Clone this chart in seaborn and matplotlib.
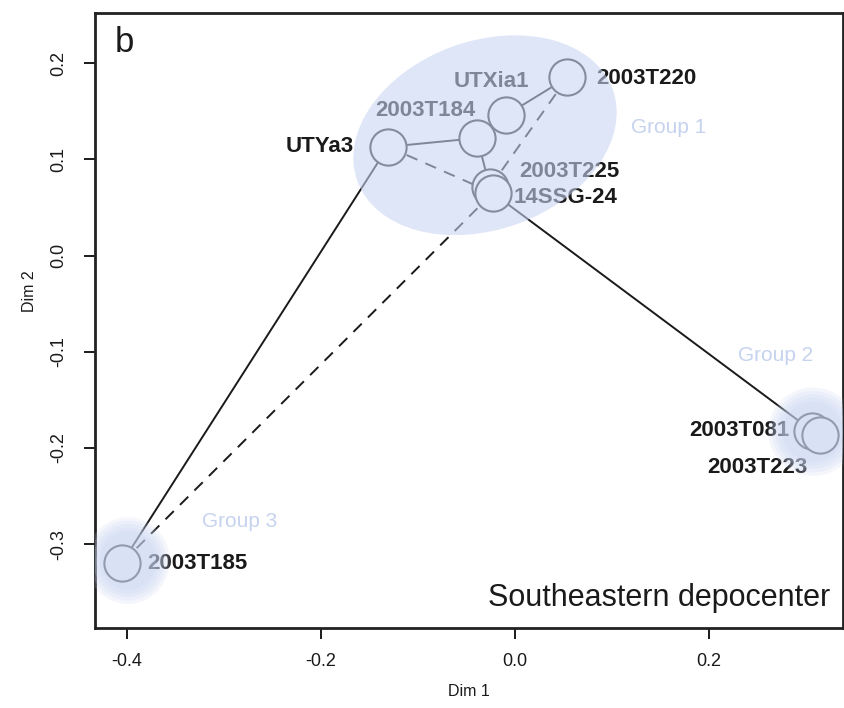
import matplotlib
matplotlib.use("Agg")
import matplotlib.pyplot as plt
from matplotlib.patches import Ellipse
import pandas as pd
import seaborn as sns

# MDS coordinates of the samples
samples = ["2003T220", "UTXia1", "2003T184", "UTYa3", "2003T225",
           "14SSG-24", "2003T081", "2003T223", "2003T185"]
dim1 = [0.054, -0.009, -0.039, -0.131, -0.026, -0.023, 0.306, 0.314, -0.405]
dim2 = [0.185, 0.146, 0.122, 0.113, 0.071, 0.065, -0.182, -0.186, -0.319]

# network links between samples
solid_links = [("2003T185", "UTYa3"), ("UTYa3", "2003T184"),
               ("2003T184", "UTXia1"), ("UTXia1", "2003T220"),
               ("2003T184", "2003T225"), ("2003T225", "14SSG-24"),
               ("14SSG-24", "2003T081"), ("2003T081", "2003T223")]
dashed_links = [("2003T185", "14SSG-24"), ("UTYa3", "14SSG-24"),
                ("2003T220", "2003T225")]

# group hulls
group_names = ["Group 1", "Group 2", "Group 3"]
group_cx = [-0.031, 0.307, -0.399]
group_cy = [0.125, -0.183, -0.317]
group_w = [0.280, 0.092, 0.086]
group_h = [0.196, 0.092, 0.090]
group_angle = [20, 0, 0]
group_label_x = [0.158, 0.268, -0.284]
group_label_y = [0.133, -0.104, -0.276]

xticks = [-0.4, -0.2, 0.0, 0.2]
yticks = [-0.3, -0.2, -0.1, 0.0, 0.1, 0.2]

# label placement (offset in points, horizontal alignment)
label_style = {
    "2003T220": ((21, -1), "left"),
    "UTXia1": ((-11, 24), "center"),
    "2003T184": ((-37, 20), "center"),
    "UTYa3": ((-25, 0), "right"),
    "2003T225": ((21, 11), "left"),
    "14SSG-24": ((15, -3), "left"),
    "2003T081": ((-16, 0), "right"),
    "2003T223": ((-9, -24), "right"),
    "2003T185": ((18, -1), "left"),
}

df = pd.DataFrame({"sample": samples, "Dim 1": dim1, "Dim 2": dim2})
pos = df.set_index("sample")

sns.set_theme(style="white")
plt.rcParams["font.family"] = ["Liberation Sans", "DejaVu Sans"]
plt.rcParams["axes.unicode_minus"] = False

fig, ax = plt.subplots(figsize=(8.45, 7.08), dpi=100)
fig.subplots_adjust(left=95 / 845, right=843 / 845,
                    bottom=1 - 628 / 708, top=1 - 13 / 708)

ink = "#1a1a1a"
for a, b in solid_links:
    ax.plot([pos.loc[a, "Dim 1"], pos.loc[b, "Dim 1"]],
            [pos.loc[a, "Dim 2"], pos.loc[b, "Dim 2"]],
            color=ink, lw=1.4, zorder=2, solid_capstyle="butt")
for a, b in dashed_links:
    ax.plot([pos.loc[a, "Dim 1"], pos.loc[b, "Dim 1"]],
            [pos.loc[a, "Dim 2"], pos.loc[b, "Dim 2"]],
            color=ink, lw=1.4, ls=(0, (6, 4.5)), zorder=2)

sns.scatterplot(data=df, x="Dim 1", y="Dim 2", ax=ax, s=680,
                facecolor="white", edgecolor="#2a2a2a", linewidth=1.5,
                zorder=3, legend=False)

for name, x, y in zip(samples, dim1, dim2):
    (dx, dy), ha = label_style[name]
    ax.annotate(name, (x, y), xytext=(dx, dy), textcoords="offset points",
                ha=ha, va="center", fontsize=16, fontweight="bold",
                color=ink, zorder=3)

hull_color = "#c8d5f2"
# Group 1: a single translucent hull
ax.add_patch(Ellipse((group_cx[0], group_cy[0]), group_w[0], group_h[0],
                     angle=group_angle[0], facecolor=hull_color,
                     edgecolor="none", alpha=0.58, zorder=4))
# Groups 2 and 3: soft-edged hulls built from stacked layers
for i in (1, 2):
    for f in [1.0, 0.92, 0.84, 0.76, 0.68]:
        ax.add_patch(Ellipse((group_cx[i], group_cy[i]), group_w[i] * f,
                             group_h[i] * f, angle=group_angle[i],
                             facecolor=hull_color, edgecolor="none",
                             alpha=0.2, zorder=4))

for name, x, y in zip(group_names, group_label_x, group_label_y):
    ax.text(x, y, name, ha="center", va="center", fontsize=15,
            color="#c6d3ef", zorder=5)

ax.text(0.027, 0.979, "b", transform=ax.transAxes, ha="left", va="top",
        fontsize=25, color=ink)
ax.text(0.983, 0.025, "Southeastern depocenter", transform=ax.transAxes,
        ha="right", va="bottom", fontsize=22, color=ink)

ax.set_xlim(-0.433, 0.338)
ax.set_ylim(-0.387, 0.252)
ax.set_xticks(xticks)
ax.set_yticks(yticks)
ax.set_xticklabels([f"{v:.1f}" for v in xticks])
ax.set_yticklabels([f"{v:.1f}" for v in yticks], rotation=90, va="center")
ax.tick_params(axis="both", direction="out", length=8, width=1.4,
               color=ink, labelsize=13, labelcolor=ink,
               bottom=True, left=True)
ax.tick_params(axis="x", pad=10)
ax.tick_params(axis="y", pad=12)
ax.set_xlabel("Dim 1", fontsize=11.5, color=ink, labelpad=10)
ax.set_ylabel("Dim 2", fontsize=11.5, color=ink)
ax.yaxis.set_label_coords(-0.077, 0.547)
for sp in ax.spines.values():
    sp.set_color("#222222")
    sp.set_linewidth(2)

fig.savefig("out.png", dpi=100)
